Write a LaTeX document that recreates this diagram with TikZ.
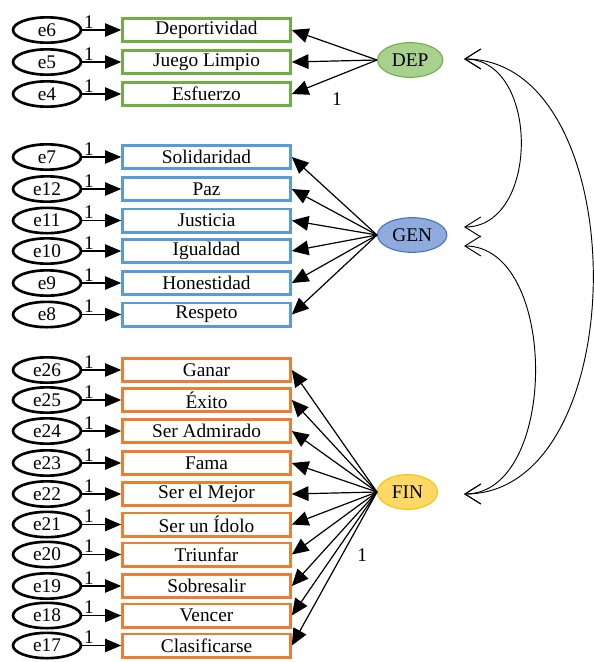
\documentclass[tikz,border=0pt]{standalone}
\usepackage{fontspec}
\setmainfont{Liberation Serif}
\usepackage{xcolor}
\usepackage{tikz}
\usetikzlibrary{shapes.geometric,arrows.meta}

\definecolor{depgreen}{HTML}{70AD47}
\definecolor{depfill}{HTML}{A9D18E}
\definecolor{genblue}{HTML}{5B9BD5}
\definecolor{genline}{HTML}{4472C4}
\definecolor{genfill}{HTML}{8FAADC}
\definecolor{finorange}{HTML}{ED7D31}
\definecolor{finline}{HTML}{FFC000}
\definecolor{finfill}{HTML}{FFD966}

\begin{document}
\begin{tikzpicture}[y=-0.75pt,x=0.75pt,
	font=\fontsize{14.5}{17}\selectfont,
	item/.style={draw, line width=2pt, minimum width=126pt, minimum height=17.5pt, inner sep=0pt},
	depbox/.style={item, draw=depgreen},
	genbox/.style={item, draw=genblue},
	finbox/.style={item, draw=finorange},
	errvar/.style={ellipse, draw, line width=2pt, minimum width=51pt, minimum height=19pt, inner sep=0pt},
	latent/.style={ellipse, draw, line width=0.8pt, inner sep=0pt, minimum height=26pt, anchor=west},
	errarr/.style={line width=0.8pt, -{Triangle[length=12pt,width=10pt]}},
	load/.style={line width=0.9pt, -{Triangle[length=12.5pt,width=11pt]}},
	cov/.style={line width=0.7pt, {Straight Barb[length=12pt,width=15pt]}-{Straight Barb[length=12pt,width=15pt]}},
	one/.style={inner sep=1pt}]
	\newcommand\Obs[5]{%
		\node[errvar] (#1) at (47,#3) {\raisebox{-2.5pt}{#1}};
		\node[#5] (#2) at (206.5,#3) {#4};
		\draw[errarr] (#1) -- node[one, pos=0, above right] {1} (#2);
	}
	\useasboundingbox (0,0) rectangle (594,662);

	% DEP
	\Obs{e6}{dep1}{30}{Deportividad}{depbox}
	\Obs{e5}{dep2}{62}{Juego Limpio}{depbox}
	\Obs{e4}{dep3}{94}{Esfuerzo}{depbox}

	% GEN
	\Obs{e7}{gen1}{157}{Solidaridad}{genbox}
	\Obs{e12}{gen2}{189}{Paz}{genbox}
	\Obs{e11}{gen3}{220.5}{Justicia}{genbox}
	\Obs{e10}{gen4}{251}{Igualdad}{genbox}
	\Obs{e9}{gen5}{283}{Honestidad}{genbox}
	\Obs{e8}{gen6}{314.5}{Respeto}{genbox}

	% FIN
	\Obs{e26}{fin1}{370}{Ganar}{finbox}
	\Obs{e25}{fin2}{400}{Éxito}{finbox}
	\Obs{e24}{fin3}{431}{Ser Admirado}{finbox}
	\Obs{e23}{fin4}{463}{Fama}{finbox}
	\Obs{e22}{fin5}{494}{Ser el Mejor}{finbox}
	\Obs{e21}{fin6}{524.5}{Ser un Ídolo}{finbox}
	\Obs{e20}{fin7}{554.5}{Triunfar}{finbox}
	\Obs{e19}{fin8}{586}{Sobresalir}{finbox}
	\Obs{e18}{fin9}{615.5}{Vencer}{finbox}
	\Obs{e17}{fin10}{645.5}{Clasificarse}{finbox}

	\node[latent, draw=depgreen, fill=depfill, minimum width=49pt] (DEP) at (377,60) {DEP};
	\node[latent, draw=genline, fill=genfill, minimum width=52pt] (GEN) at (377,235) {GEN};
	\node[latent, draw=finline, fill=finfill, minimum width=45pt] (FIN) at (377,492) {FIN};

	\draw[load] (DEP.west) -- (dep1.east);
	\draw[load] (DEP.west) -- (dep2.east);
	\draw[load] (DEP.west) -- node[one, pos=0.47, below=11pt] {1} (dep3.east);

	\draw[load] (GEN.west) -- (gen1.east);
	\draw[load] (GEN.west) -- (gen2.east);
	\draw[load] (GEN.west) -- (gen3.east);
	\draw[load] (GEN.west) -- (gen4.east);
	\draw[load] (GEN.west) -- (gen5.east);
	\draw[load] (GEN.west) -- (gen6.east);

	\draw[load] (FIN.west) -- (fin1.east);
	\draw[load] (FIN.west) -- (fin2.east);
	\draw[load] (FIN.west) -- (fin3.east);
	\draw[load] (FIN.west) -- (fin4.east);
	\draw[load] (FIN.west) -- (fin5.east);
	\draw[load] (FIN.west) -- (fin6.east);
	\draw[load] (FIN.west) -- (fin7.east);
	\draw[load] (FIN.west) -- (fin8.east);
	\draw[load] (FIN.west) -- (fin9.east);
	\draw[load] (FIN.west) -- node[one, pos=0.41, right=10pt] {1} (fin10.east);

	% covariances
	\coordinate (cDEP) at (464,59);
	\coordinate (cGENa) at (464,227);
	\coordinate (cGENb) at (464,246);
	\coordinate (cFIN) at (464,494);
	\draw[cov] (cDEP) .. controls +(76,0) and +(76,0) .. (cGENa);
	\draw[cov] (cDEP) .. controls +(172,0) and +(172,0) .. (cFIN);
	\draw[cov] (cGENb) .. controls +(95,0) and +(95,0) .. (cFIN);
\end{tikzpicture}
\end{document}
